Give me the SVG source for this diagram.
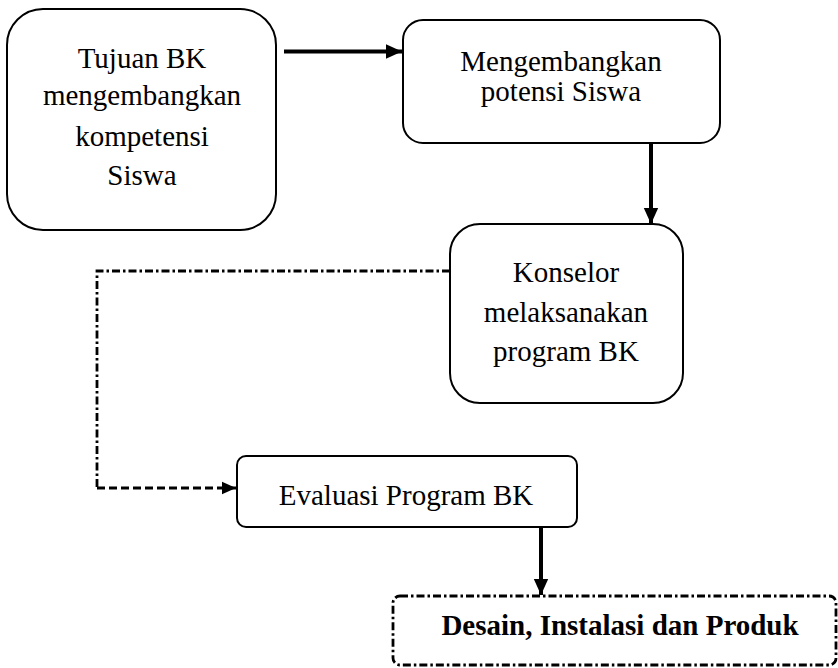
<svg xmlns="http://www.w3.org/2000/svg" width="838" height="668" viewBox="0 0 838 668">
<style>
.box{fill:#fff;stroke:#000;stroke-width:2}
.t{font-family:"Liberation Serif","Times New Roman",serif;font-size:29px;fill:#000;text-anchor:middle}
.b{font-weight:bold}
.arr{stroke:#000;stroke-width:4;fill:none}
.dd{stroke:#000;stroke-width:2.8;fill:none;stroke-dasharray:8 3 2.5 3}
.ds{stroke:#000;stroke-width:3;fill:none;stroke-dasharray:8 4}
</style>
<defs>
<marker id="ah" viewBox="0 0 10 10" refX="10" refY="5" markerWidth="16" markerHeight="16" markerUnits="userSpaceOnUse" orient="auto">
<path d="M0,0.5 L10,5 L0,9.5 Z" fill="#000"/>
</marker>
<marker id="ah2" viewBox="0 0 10 10" refX="10" refY="5" markerWidth="14" markerHeight="14" markerUnits="userSpaceOnUse" orient="auto">
<path d="M0,0.5 L10,5 L0,9.5 Z" fill="#000"/>
</marker>
</defs>
<rect width="838" height="668" fill="#fff"/>
<g id="n1">
<rect class="box" x="7" y="9" width="269" height="221" rx="36"/>
<text class="t" x="142" y="68">Tujuan BK</text>
<text class="t" x="142" y="105">mengembangkan</text>
<text class="t" x="142" y="146">kompetensi</text>
<text class="t" x="142" y="185">Siswa</text>
</g>
<g id="n2">
<rect class="box" x="403" y="20" width="317" height="123" rx="20"/>
<text class="t" x="561" y="71">Mengembangkan</text>
<text class="t" x="561" y="101">potensi Siswa</text>
</g>
<g id="n3">
<rect class="box" x="450" y="224" width="233" height="179" rx="30"/>
<text class="t" x="566" y="282">Konselor</text>
<text class="t" x="566" y="322">melaksanakan</text>
<text class="t" x="566" y="361">program BK</text>
</g>
<g id="n4">
<rect class="box" x="237" y="456" width="340" height="71" rx="9"/>
<text class="t" x="406" y="505">Evaluasi Program BK</text>
</g>
<g id="n5">
<rect class="dd" x="393" y="596" width="443" height="69" rx="7"/>
<text class="t b" x="620" y="635">Desain, Instalasi dan Produk</text>
</g>
<g id="connectors">
<line class="arr" x1="284" y1="51.5" x2="402" y2="51.5" marker-end="url(#ah)"/>
<line class="arr" x1="651" y1="143" x2="651" y2="224" marker-end="url(#ah)"/>
<polyline class="dd" points="450,271 97,271 97,488"/>
<line class="ds" x1="97" y1="488" x2="224" y2="488"/>
<line stroke="#000" stroke-width="3" x1="222" y1="488" x2="236" y2="488" marker-end="url(#ah2)"/>
<line class="arr" x1="541" y1="527" x2="541" y2="595" marker-end="url(#ah)"/>
</g>
</svg>
